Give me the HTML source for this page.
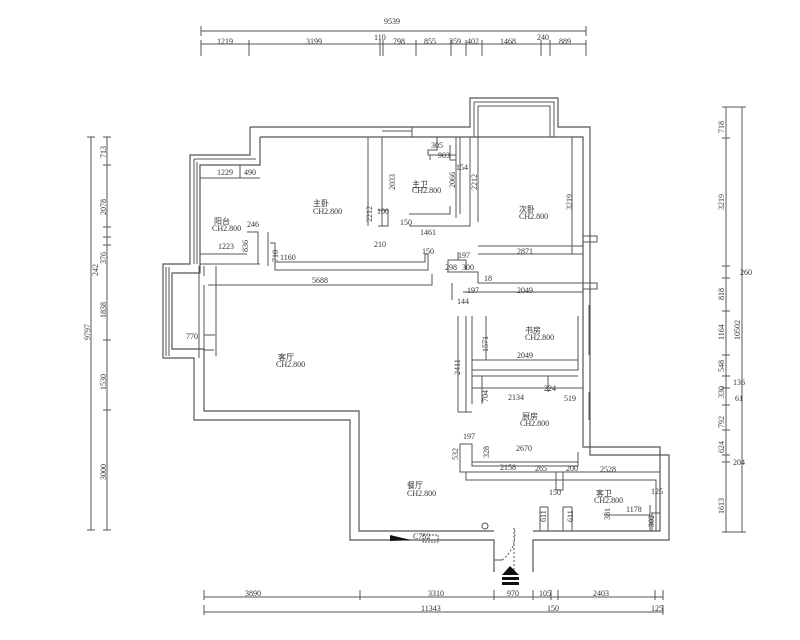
<!DOCTYPE html>
<html><head><meta charset="utf-8"><style>
html,body{margin:0;padding:0;background:#fff;}
svg{display:block}
text{font-family:"Liberation Serif","Noto Serif CJK SC",serif;font-size:8px;fill:#333}
.c{font-family:"Liberation Sans","Noto Sans CJK SC",sans-serif}
</style></head><body>
<svg width="800" height="640" viewBox="0 0 800 640" xmlns="http://www.w3.org/2000/svg">
<g stroke="#555" stroke-width="1" fill="none">
<!-- top dims -->
<path d="M201 31H586M201 26V36M586 26V36M201 44H586"/>
<path d="M201 40V56M249 40V56M380 40V56M383 40V56M416 40V56M451 40V56M466 40V56M482 40V56M541 40V56M550 40V56M586 40V56"/>
<!-- bottom dims -->
<path d="M204 597H663M204 612H663"/>
<path d="M204 590V600M360 590V600M494 590V600M533 590V600M551 590V600M558 590V600M655 590V600M663 590V600M204 605V615M663 605V615"/>
<!-- left dims -->
<path d="M91 137V530M107 137V530M87 137H95M87 530H95"/>
<path d="M103 137H111M103 165H111M103 227H111M103 237H111M103 245H111M103 340H111M103 410H111M103 530H111"/>
<!-- right dims -->
<path d="M726 107V532M742 107V532M722 107H746M722 532H746"/>
<path d="M722 138H730M722 266H730M722 278H730M722 311H730M722 355H730M722 376H730M722 388H730M722 405H730M722 430H730M722 455H730M722 462H730"/>
<!-- outer walls -->
<path d="M250 127H470V98H558V127H590V455H669V540H533V572" stroke-width="1.2"/>
<path d="M494 572V540H350V420H194V358H163V264H190V155H250V127" stroke-width="1.2"/>
<path d="M260 137H583V447H660V531H533" stroke-width="1.2"/>
<path d="M494 531H359V411H204V349H172V273H200V165H260V137" stroke-width="1.2"/>
<!-- balcony top -->
<path d="M474 102H554V137M474 102V137M478 106H550V137M478 106V137"/>
<!-- left balcony lines -->
<path d="M194 159H256M194 159V264M197 162V264M166 267V356M169 267V356M199 266V358"/>
<path d="M200 178H260M240 165V178M200 254H247M200 264H260M216 266V356M204 266V276"/>
<!-- master bedroom walls -->
<path d="M247 232H258V264M258 232V264M270 243H275V270H428V254M275 262H425V254H428M275 243V262"/>
<path d="M268 232V266M208 285H432V274M204 285V350H214M204 335H215"/>
<path d="M368 137V226M382 137V226M382 137H412V127M382 131H412"/>
<path d="M378 210H388V226H378M409 214H450V206M409 226H470V137M456 137V218M460 137V214M437 137V150H428V155H456M430 155V160M450 145V160H456"/>
<!-- second bedroom wall -->
<path d="M470 137V222M478 137V222M478 246H583M478 254H583M572 137V254M583 236H597V242H583"/>
<!-- corridor stubs -->
<path d="M458 252V260H448V272M458 260H466V270M447 272H478V283H583M452 283V300M463 292H583M583 283H597V289H583"/>
<!-- study / guest room -->
<path d="M458 316V412M466 316V412M458 412H472M472 316V404M486 316V360M472 360H578M472 404V370M472 370H578V360M578 316V360M583 300V360"/>
<path d="M472 376H578M472 388H578M548 376V392M548 388H583M482 376V404"/>
<path d="M583 392V420M589 392V420M589 305V355"/>
<!-- kitchen -->
<path d="M460 444H472V466H578V452M472 462H578M460 444V472H578M466 472V480H583"/>
<path d="M466 472H660M466 480H656V531M556 472V490H563V472M563 480V490"/>
<!-- bathroom -->
<path d="M540 507V531M548 507V531M563 507V531M572 507V531M540 507H548M563 507H572"/>
<path d="M604 515H650V531M650 505V515M651 513H660M652 513V531"/>
<!-- entrance door -->
<path d="M494 540V560H502M533 540V572" />
<path d="M502 560A30 30 0 0 0 514 528" stroke-dasharray="2 2"/>
<path d="M514 528V572" stroke-dasharray="2 2"/>
<rect x="423" y="535" width="15" height="7" stroke-dasharray="2 1"/>
<circle cx="485" cy="526" r="3"/>
</g>
<polygon points="390,535 411,540 390,541" fill="#111"/>
<polygon points="502,575 519,575 510,566" fill="#111"/>
<rect x="502" y="577" width="17" height="3" fill="#111"/>
<rect x="502" y="582" width="17" height="3" fill="#111"/>
<!-- text -->
<text x="384" y="24">9539</text>
<text x="217" y="44">1219</text>
<text x="306" y="44">3199</text>
<text x="374" y="40">110</text>
<text x="393" y="44">798</text>
<text x="424" y="44">855</text>
<text x="449" y="44">359</text>
<text x="467" y="44">402</text>
<text x="500" y="44">1468</text>
<text x="537" y="40">240</text>
<text x="559" y="44">889</text>
<text x="245" y="596">3890</text>
<text x="428" y="596">3310</text>
<text x="507" y="596">970</text>
<text x="539" y="596">105</text>
<text x="593" y="596">2403</text>
<text x="421" y="611">11343</text>
<text x="547" y="611">150</text>
<text x="651" y="611">125</text>
<g transform="rotate(-90)">
<text x="-158" y="106">713</text>
<text x="-215" y="106">2078</text>
<text x="-264" y="106">376</text>
<text x="-276" y="98">242</text>
<text x="-318" y="106">1838</text>
<text x="-340" y="90">9797</text>
<text x="-390" y="106">1530</text>
<text x="-480" y="106">3000</text>
<text x="-133" y="724">718</text>
<text x="-210" y="724">3219</text>
<text x="-300" y="724">818</text>
<text x="-340" y="740">10502</text>
<text x="-340" y="724">1164</text>
<text x="-372" y="724">548</text>
<text x="-398" y="724">330</text>
<text x="-428" y="724">792</text>
<text x="-453" y="724">624</text>
<text x="-514" y="724">1613</text>
<text x="-222" y="372">2212</text>
<text x="-190" y="395">2033</text>
<text x="-188" y="455">2066</text>
<text x="-190" y="477">2212</text>
<text x="-210" y="572">3219</text>
<text x="-252" y="248">836</text>
<text x="-262" y="278">710</text>
<text x="-375" y="460">2411</text>
<text x="-352" y="488">1571</text>
<text x="-402" y="488">704</text>
<text x="-460" y="458">532</text>
<text x="-458" y="489">328</text>
<text x="-522" y="546">611</text>
<text x="-522" y="573">611</text>
<text x="-520" y="610">381</text>
<text x="-527" y="654">302</text>
</g>
<text x="740" y="275">260</text>
<text x="733" y="385">136</text>
<text x="735" y="401">61</text>
<text x="733" y="465">204</text>
<text x="217" y="175">1229</text>
<text x="244" y="175">490</text>
<text x="218" y="249">1223</text>
<text x="247" y="227">246</text>
<text x="280" y="260">1160</text>
<text x="312" y="283">5688</text>
<text x="374" y="247">210</text>
<text x="422" y="254">150</text>
<text x="377" y="214">100</text>
<text x="400" y="225">150</text>
<text x="420" y="235">1461</text>
<text x="431" y="148">305</text>
<text x="438" y="158">903</text>
<text x="456" y="170">154</text>
<text x="517" y="254">2871</text>
<text x="458" y="258">197</text>
<text x="445" y="270">298</text>
<text x="462" y="270">300</text>
<text x="484" y="281">18</text>
<text x="467" y="293">197</text>
<text x="517" y="293">2049</text>
<text x="457" y="304">144</text>
<text x="517" y="358">2049</text>
<text x="508" y="400">2134</text>
<text x="544" y="391">224</text>
<text x="564" y="401">519</text>
<text x="463" y="439">197</text>
<text x="516" y="451">2670</text>
<text x="500" y="470">2158</text>
<text x="535" y="471">265</text>
<text x="566" y="471">200</text>
<text x="600" y="472">2528</text>
<text x="549" y="495">150</text>
<text x="651" y="494">125</text>
<text x="626" y="512">1178</text>
<text x="186" y="339">770</text>
<text x="413" y="539">C752</text>
<text class="c" x="313" y="206">主卧</text><text x="313" y="214">CH2.800</text>
<text class="c" x="412" y="187">主卫</text><text x="412" y="193">CH2.800</text>
<text class="c" x="519" y="212">次卧</text><text x="519" y="219">CH2.800</text>
<text class="c" x="214" y="224">阳台</text><text x="212" y="231">CH2.800</text>
<text class="c" x="278" y="360">客厅</text><text x="276" y="367">CH2.800</text>
<text class="c" x="525" y="333">书房</text><text x="525" y="340">CH2.800</text>
<text class="c" x="522" y="419">厨房</text><text x="520" y="426">CH2.800</text>
<text class="c" x="407" y="488">餐厅</text><text x="407" y="496">CH2.800</text>
<text class="c" x="596" y="496">客卫</text><text x="594" y="503">CH2.800</text>
</svg>
</body></html>
